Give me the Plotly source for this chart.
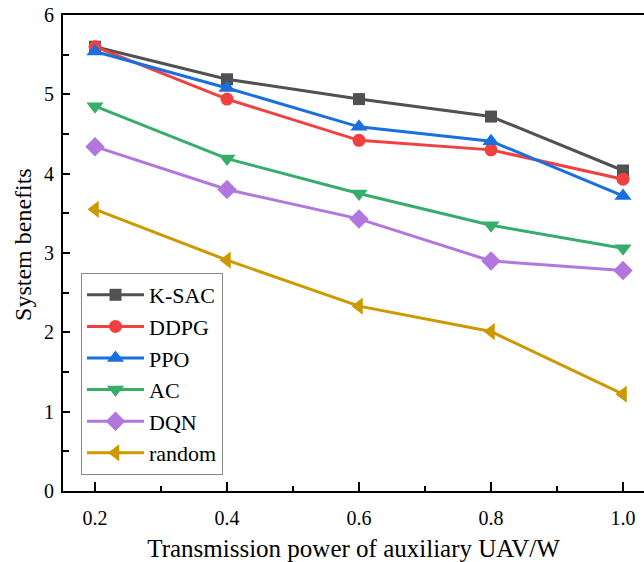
import plotly.graph_objects as go

power = [0.2, 0.4, 0.6, 0.8, 1.0]
ksac = [5.60, 5.19, 4.94, 4.72, 4.04]
ddpg = [5.60, 4.94, 4.42, 4.30, 3.93]
ppo = [5.54, 5.08, 4.59, 4.41, 3.72]
ac = [4.85, 4.19, 3.75, 3.35, 3.06]
dqn = [4.34, 3.80, 3.43, 2.90, 2.78]
rnd = [3.55, 2.91, 2.33, 2.01, 1.22]

series = [
    ("K-SAC", ksac, "#515151", "square", 12),
    ("DDPG", ddpg, "#F14040", "circle", 13),
    ("PPO", ppo, "#1A6FDF", "triangle-up", 15),
    ("AC", ac, "#37AD6B", "triangle-down", 15),
    ("DQN", dqn, "#B177DE", "diamond", 15),
    ("random", rnd, "#CC9900", "triangle-left", 15),
]

fig = go.Figure()
for name, vals, color, sym, sz in series:
    fig.add_trace(go.Scatter(
        x=power, y=vals, name=name, mode="lines+markers",
        line=dict(color=color, width=3),
        marker=dict(symbol=sym, size=sz, color=color),
    ))

font = "Liberation Serif"
fig.update_layout(
    width=644, height=562,
    margin=dict(l=63, r=0, t=15, b=71, autoexpand=False),
    plot_bgcolor="white", paper_bgcolor="white",
    font=dict(family=font, color="black"),
    showlegend=True,
    legend=dict(
        x=0.031, y=0.458, xanchor="left", yanchor="top",
        bgcolor="white", bordercolor="#888888", borderwidth=1,
        font=dict(size=22, family=font),
        itemwidth=57, tracegroupgap=0,
    ),
    xaxis=dict(
        range=[0.1515, 1.0318],
        tickvals=power, tickformat=".1f",
        ticks="inside", ticklen=9, tickwidth=1.5, tickcolor="black",
        minor=dict(tickvals=[0.3, 0.5, 0.7, 0.9], ticks="inside", ticklen=5, tickcolor="black", tickwidth=1.5),
        showline=True, linecolor="black", linewidth=2, mirror=True,
        showgrid=False, zeroline=False, automargin=False,
        tickfont=dict(size=20, family=font),
        ticklabelstandoff=8, ticklabeloverflow="allow",
        title=dict(text="Transmission power of auxiliary UAV/W", font=dict(size=25, family=font), standoff=22),
    ),
    yaxis=dict(
        range=[0, 6], dtick=1,
        ticks="inside", ticklen=7, tickwidth=1.5, tickcolor="black",
        minor=dict(dtick=0.5, ticks="inside", ticklen=6, tickcolor="black", tickwidth=1.5),
        showline=True, linecolor="black", linewidth=2,
        showgrid=False, zeroline=False, automargin=False,
        tickfont=dict(size=20, family=font),
        ticklabelstandoff=3, ticklabeloverflow="allow",
    ),
    annotations=[dict(
        text="System benefits", textangle=-90,
        xref="paper", yref="paper", x=-0.0688, y=0.517,
        xanchor="center", yanchor="middle", showarrow=False,
        font=dict(size=24, family=font, color="black"),
    )],
)

fig.write_html(
    "out.html",
    config={"displayModeBar": False},
    post_script="document.body.style.margin='0';document.body.style.overflow='hidden';",
)
